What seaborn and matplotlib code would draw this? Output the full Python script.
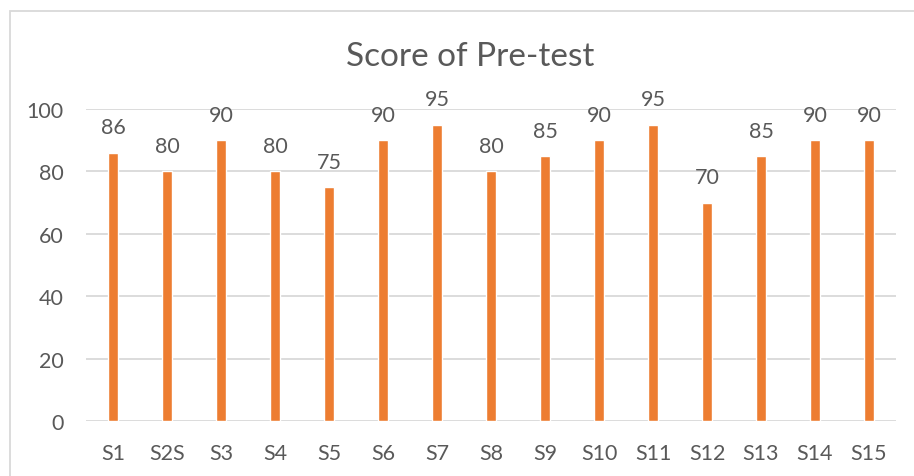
import matplotlib
matplotlib.use("Agg")
import matplotlib.pyplot as plt
import seaborn as sns
import pandas as pd
from matplotlib.patches import Rectangle

# data
students = ["S1", "S2S", "S3", "S4", "S5", "S6", "S7", "S8", "S9", "S10",
            "S11", "S12", "S13", "S14", "S15"]
scores = [86, 80, 90, 80, 75, 90, 95, 80, 85, 90, 95, 70, 85, 90, 90]
yticks = [0, 20, 40, 60, 80, 100]

df = pd.DataFrame({"student": students, "score": scores})

sns.set_theme(style="white")
plt.rcParams["font.family"] = ["Lato", "DejaVu Sans"]
text_color = "#595959"

fig = plt.figure(figsize=(9.14, 4.77), dpi=100)
ax = fig.add_axes([86 / 914, 1 - 422 / 477, 810 / 914, 312 / 477])

sns.barplot(x="student", y="score", data=df, color="#ED7D31", width=0.185,
            saturation=1, ax=ax)

for c in ax.containers:
    ax.bar_label(c, fmt="%d", padding=11, fontsize=15.5, color=text_color)

ax.set_ylim(0, 100)
ax.set_xlim(-0.5, len(students) - 0.5)
ax.set_yticks(yticks)
ax.yaxis.grid(True, color="#D9D9D9", linewidth=1.3)
ax.set_axisbelow(True)
for s in ax.spines.values():
    s.set_visible(False)
ax.tick_params(axis="both", length=0, labelsize=15.5, labelcolor=text_color)
ax.tick_params(axis="x", pad=16)
ax.tick_params(axis="y", pad=16)
ax.set_xlabel("")
ax.set_ylabel("")

fig.text(470 / 914, 1 - 57 / 477, "Score of Pre-test", ha="center", va="center",
         fontsize=24, color=text_color)

# chart frame (cropped on the right and bottom)
fig.patches.append(Rectangle((10 / 914, -0.1), 1.0, 1 - 12 / 477 + 0.1,
                             transform=fig.transFigure, fill=False,
                             edgecolor="#D9D9D9", linewidth=1.3))

fig.savefig("out.png", dpi=100)
